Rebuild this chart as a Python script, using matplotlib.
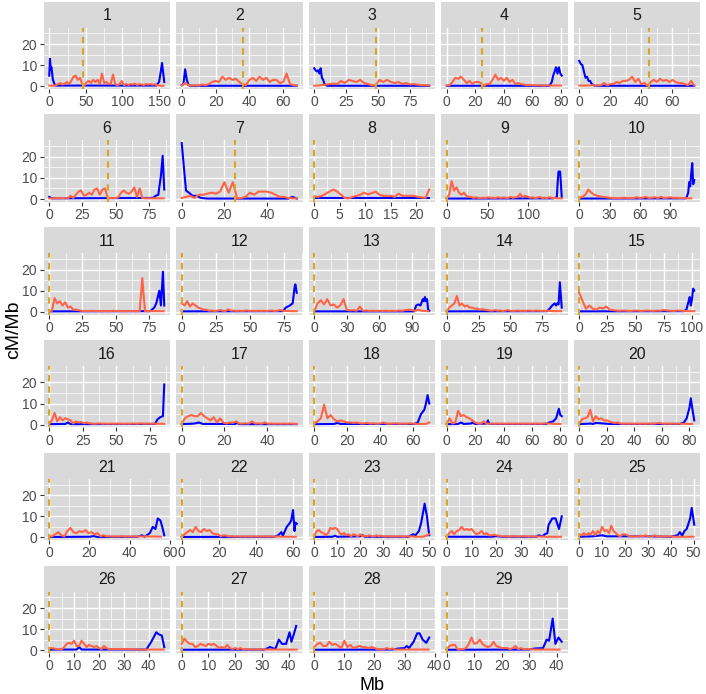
import numpy as np
import matplotlib.pyplot as plt

plt.rcParams['font.family'] = ['Liberation Sans', 'DejaVu Sans']

#--------------------------------------------------------------------------------------------------
# data: recombination rate (cM/Mb) along each chromosome

chroms = [str(i) for i in range(1, 30)]

# centromere position (Mb), dashed line
centromere = [46.5, 36, 48, 24.6, 44.7, 44, 25] + [0] * 22

# spacing of major x breaks per panel
x_break = [50, 20, 25, 20, 20, 25, 20, 5, 50, 30,
           25, 25, 30, 25, 25, 25, 20, 20, 20, 20,
           20, 20, 10, 10, 10, 10, 10, 10, 10]

# red series: regular windows, step in Mb
red_step = [3, 2, 3, 2, 2, 2, 2, 0.75, 3, 3,
            2, 2, 3, 2, 3, 2, 1.5, 2, 2, 2,
            1.5, 1.5, 1, 1, 1, 1, 1, 1, 1]

red_rate = [
    [0.3,0.2,0.3,0.5,1.0,1.5,0.8,1.2,2.0,1.0,2.5,4.5,5.0,3.0,4.0,1.0,0.2,2.0,2.5,1.5,3.0,2.0,3.0,1.0,6.0,1.5,2.0,1.0,1.2,5.5,1.0,0.5,1.0,2.5,0.5,1.0,0.6,1.0,0.8,1.2,0.6,1.0,0.8,0.6,1.0,0.8,1.0,0.7,0.9,0.5,0.3,0.2,0.2],
    [0.3,1.5,0.5,0.3,0.5,0.3,0.8,0.5,1.0,2.0,2.5,2.0,4.5,3.0,4.0,3.0,3.5,2.0,1.0,0.5,3.0,4.0,2.5,4.5,3.0,4.0,2.0,3.0,3.0,1.5,2.0,6.0,1.0,0.5,0.3],
    [0.2,0.3,0.5,0.8,1.0,1.2,1.0,2.5,1.5,3.0,2.5,2.0,3.0,1.5,1.0,0.5,0.3,3.0,2.0,3.0,2.0,1.5,2.0,1.0,1.5,0.8,1.0,0.7,0.5,0.5,0.4],
    [0.3,0.5,2.0,4.0,3.5,4.5,3.0,1.5,2.5,1.0,2.0,2.0,1.5,0.2,1.0,1.0,3.0,5.5,3.0,4.0,2.5,4.0,2.0,3.0,1.0,1.5,1.0,0.8,0.5,0.6,0.5,0.4,0.5,0.4,0.3,0.4,0.3,0.3,0.3,0.3,0.3],
    [0.3,0.3,0.3,0.3,0.5,0.3,0.4,0.5,1.5,0.5,1.0,1.0,2.0,1.5,2.5,2.5,3.0,4.5,2.0,3.5,1.0,1.5,0.2,2.0,3.0,2.0,3.5,2.5,3.0,2.0,3.0,2.0,1.5,1.5,1.0,0.5,2.5,0.3],
    [0.3,0.3,0.3,0.5,0.3,0.5,0.4,0.3,1.5,0.5,2.0,3.5,4.0,1.5,2.0,3.0,2.0,4.5,5.0,2.0,4.5,5.0,0.2,0.5,0.4,0.5,0.8,3.0,4.0,3.0,2.5,3.5,5.5,1.0,5.0,0.5,0.3,0.3,0.3,0.3,0.3,0.3,0.3,0.3],
    [0.5,1.0,1.5,0.5,2.0,2.0,2.5,3.0,2.5,3.5,8.0,3.0,8.0,0.3,0.5,1.0,3.0,2.0,3.5,3.5,3.5,3.0,2.0,1.0,1.0,0.5,0.3,0.3],
    [1.2,1.0,1.5,2.5,3.5,4.5,3.5,2.0,0.5,0.3,1.0,1.5,2.0,3.0,2.2,2.8,3.5,2.0,1.5,1.5,1.5,1.0,2.5,1.5,1.5,1.5,1.5,1.0,0.8,0.5,4.5],
    [0.5,2.0,8.5,4.0,5.5,3.0,2.0,3.0,1.5,1.0,1.0,0.5,0.8,0.5,0.5,0.6,0.5,0.8,0.5,0.6,0.5,0.8,0.5,0.7,0.6,0.5,1.0,0.6,0.8,1.0,2.5,0.8,1.5,1.2,0.6,0.8,0.5,0.6,1.0,0.5,0.6,0.5,0.8,0.5,0.5,0.3,0.3,0.3],
    [0.5,1.0,2.0,4.5,3.0,2.0,1.5,1.2,1.0,0.8,0.6,0.5,0.5,0.4,0.5,0.6,0.4,0.5,0.5,0.8,0.5,0.6,1.0,0.5,0.6,0.8,0.5,1.0,0.5,0.6,0.8,0.5,0.6,0.5,0.5,0.4,0.3,0.3],
    [0.2,0.5,6.5,4.0,5.0,3.0,4.5,2.0,2.5,1.0,1.0,0.8,0.5,0.3,0.4,0.3,0.5,0.3,0.4,0.3,0.3,0.4,0.3,0.3,0.5,0.3,0.4,0.3,0.3,0.3,0.4,0.3,0.3,0.3,0.3,16.0,0.3,0.3,0.3,0.3,0.3,0.3,0.3,0.3],
    [4.0,3.0,5.0,2.5,4.0,3.0,2.0,1.5,1.0,1.0,0.5,0.6,0.4,0.5,0.8,0.5,0.4,1.2,0.5,0.6,0.4,0.5,0.4,0.5,0.6,0.4,0.5,0.4,0.5,0.4,0.5,0.4,0.5,0.6,0.4,0.5,0.8,0.5,0.4,0.4,0.3,0.3,0.3],
    [0.3,4.0,5.5,3.5,6.0,3.0,3.5,2.0,3.0,6.0,1.0,0.6,0.8,0.5,2.5,0.5,0.6,0.4,0.5,0.4,0.5,0.4,0.5,0.4,0.5,0.4,0.6,0.5,0.8,1.0,0.8,0.5,1.0,0.5,0.4,0.3],
    [0.3,2.0,3.0,4.0,7.5,3.0,4.0,2.5,3.0,2.0,2.0,1.5,1.5,1.0,1.2,1.0,0.8,0.6,0.5,0.8,0.5,0.6,0.4,0.5,0.8,0.5,0.4,0.5,0.6,0.4,0.5,0.4,0.6,0.5,0.4,0.6,0.5,0.4,0.5,0.4,0.5,0.4,0.3,0.3,0.3,0.3],
    [9.0,5.0,1.5,3.0,1.5,1.0,2.0,1.5,2.5,1.0,0.8,0.6,0.5,0.6,0.5,0.4,0.5,0.6,0.4,0.5,0.6,0.5,0.4,0.6,0.5,0.8,0.6,0.5,0.4,0.6,0.5,0.4,0.3,0.3,0.3],
    [0.5,2.0,5.5,1.5,3.5,2.0,3.0,2.5,2.0,0.5,1.5,1.0,1.2,0.6,1.0,0.6,0.5,0.4,0.5,0.6,0.4,0.5,0.4,0.5,0.4,0.5,0.4,0.5,0.4,0.5,0.4,0.5,0.5,0.4,0.6,0.5,0.4,0.5,0.4,0.5,0.4,0.4,0.4,0.3],
    [0.5,3.0,4.0,4.5,4.0,4.0,5.5,4.0,3.0,2.0,3.5,1.0,3.0,1.0,0.5,1.0,0.8,1.5,0.5,0.5,0.6,0.5,1.5,0.5,0.6,0.4,1.0,0.4,0.5,0.4,0.5,0.4,0.5,0.4,0.5,0.4,0.3],
    [0.5,1.5,3.0,9.5,3.0,4.5,2.5,1.5,2.0,1.5,1.0,1.0,0.8,1.0,0.6,0.5,0.8,0.5,0.6,0.4,0.5,1.0,0.5,0.4,0.5,0.6,0.4,0.5,0.4,0.6,0.5,0.4,0.3,0.3,0.3,1.0],
    [0.5,3.0,0.5,1.0,6.5,4.0,4.5,3.5,3.0,2.0,1.0,0.5,0.4,1.5,0.5,0.4,0.5,0.4,0.5,0.4,0.5,0.4,0.5,0.4,0.5,0.4,0.5,0.4,0.5,0.4,0.5,0.4,0.5,0.4,0.5,0.6,0.5,0.4,0.3,0.3,0.3],
    [0.5,2.5,3.0,3.5,7.0,1.5,4.0,2.5,3.0,2.0,2.0,1.5,1.0,0.8,1.0,0.5,0.4,0.5,0.4,0.5,0.4,0.5,0.4,0.5,0.4,0.5,0.4,0.5,0.6,0.8,0.5,0.4,0.5,0.4,0.5,0.4,0.5,0.4,0.4,0.3,0.3,0.3],
    [0.5,0.5,1.5,2.5,1.0,0.5,3.0,4.5,2.5,2.0,3.0,2.5,3.5,2.0,2.5,1.5,2.0,0.5,1.0,0.5,0.5,0.4,0.5,0.4,0.6,0.4,0.5,0.4,0.5,0.4,0.5,0.4,0.5,0.4,0.4,0.4,0.4,0.3],
    [0.3,1.5,2.5,3.5,2.5,5.0,3.0,2.5,4.0,3.0,3.5,2.0,1.5,1.5,0.5,1.0,0.8,0.5,0.6,0.4,0.5,0.4,0.5,0.4,0.5,0.4,0.5,0.4,0.5,0.4,0.5,0.4,0.5,0.4,0.4,0.4,0.3,0.3,0.3,0.3,0.3,0.3],
    [0.5,3.0,3.5,2.5,2.0,1.0,2.0,4.5,4.0,4.5,4.0,2.0,1.5,2.0,1.0,1.5,0.5,1.5,1.0,0.5,1.5,0.5,0.8,0.5,1.0,0.5,0.4,1.0,0.5,0.8,0.5,0.4,0.6,0.5,0.4,0.5,0.4,0.6,0.5,0.4,0.5,0.4,0.5,0.4,0.3,0.3,0.3,0.3,0.5,1.0,1.5],
    [0.5,2.0,3.0,1.5,3.0,3.5,5.0,3.5,4.0,3.5,4.0,2.5,1.5,2.0,3.0,1.5,2.0,1.0,1.0,1.2,1.0,0.8,0.5,0.6,0.5,0.4,0.5,0.6,0.5,0.4,0.5,0.6,0.5,0.4,0.5,0.4,0.5,0.4,0.4,0.4,0.3,0.3,0.3,0.3,0.3,0.3,0.3],
    [1.5,1.0,2.0,1.0,2.0,1.5,3.0,1.0,3.0,2.0,5.0,3.0,3.5,2.0,5.5,3.0,2.0,1.0,0.5,1.5,1.5,1.0,0.5,0.5,0.4,0.5,0.4,0.8,0.5,1.0,0.4,0.5,0.4,1.0,0.5,0.4,0.5,0.4,0.5,0.4,0.5,0.4,0.3,0.3,0.3,0.3,0.3,0.3,0.3,0.3,0.3],
    [1.0,1.0,0.8,0.5,0.5,0.3,1.5,3.0,3.5,3.0,4.5,2.0,2.0,4.5,3.0,1.5,2.5,2.0,1.5,2.0,1.0,0.5,2.0,1.0,0.5,0.5,0.6,0.5,0.5,0.6,0.5,0.5,0.4,0.5,0.4,0.4,0.3,0.3,0.3,0.3,0.3,0.3,0.3,0.3,0.3,0.3,0.3],
    [3.0,5.5,4.0,3.0,3.0,1.5,2.0,3.0,2.5,2.0,3.0,2.5,3.0,2.0,1.0,1.5,1.0,2.5,1.0,0.5,1.0,0.5,1.0,0.3,0.5,0.4,0.5,0.3,0.4,0.3,0.5,0.4,0.3,0.3,0.3,0.3,0.3,0.3,0.3,0.3,0.3,0.3,0.3,0.3],
    [1.5,3.0,3.5,2.0,2.0,4.0,2.5,3.0,2.0,1.0,4.5,1.5,2.5,1.0,1.5,2.0,1.5,1.5,1.0,1.5,1.0,0.5,0.5,0.3,1.0,0.5,0.8,0.3,0.3,0.3,0.3,0.3,0.3,0.3,0.3,0.3,0.3,0.3,0.3],
    [0.5,2.0,2.5,2.5,0.3,0.5,0.5,1.0,3.0,6.0,3.0,3.5,5.0,3.0,2.0,1.5,2.0,4.0,2.0,1.5,1.0,1.0,1.0,0.5,1.0,2.0,0.5,1.0,0.5,0.4,0.5,0.4,0.3,0.3,0.3,0.3,0.3,0.3,0.3,0.3,0.3,0.3],
]

# blue series: (Mb, cM/Mb) vertices
blue_rate = [
    [(0,5),(1,13),(2,8),(3,9),(5,3),(8,0.3),(146,0.3),(150,2),(154,11),(157,2)],
    [(0,0.5),(1,1),(2,8),(3,3),(4,0.5),(5,0.2),(68,0.2)],
    [(0,8.5),(1,7.5),(2,7),(3,7.5),(4,6),(5,8.5),(6,4),(7,3),(8,1),(10,0.2),(90,0.2)],
    [(0,0.2),(72,0.2),(73.5,2),(74.5,5),(75.5,7),(76.5,9),(77.5,6),(78.5,9),(79.5,6),(80.5,5)],
    [(0,12),(1,10.5),(2,10),(3,7),(4,4),(5,4.5),(6,2.5),(7,2.5),(8,1),(10,0.2),(74,0.2)],
    [(0,1),(2,0.3),(78,0.5),(80,1.5),(82,2),(84,11),(85.3,20.5),(86.5,4.5)],
    [(0,26.5),(1,15),(2,4),(4,2.5),(5,1.5),(7,1.5),(9,0.5),(12,0.2),(50,0.2),(52,1),(54,0.2)],
    [(0,0.3),(22.5,0.3)],
    [(0,0.2),(130,0.3),(133,0.5),(135,1),(136,8),(137,13),(139,13),(141,1)],
    [(0,0.2),(106,0.3),(108,3),(109,8),(110,6),(111,12),(112,17),(113,7),(114,9)],
    [(0,0.2),(76,0.3),(79,2),(80.5,4),(82,8),(82.8,10),(84,3),(85.5,19),(86.5,3)],
    [(0,0.2),(74,0.3),(76,2),(79,3),(81,4),(82.5,12),(83,13),(84,9)],
    [(0,0.2),(92,0.2),(94,3),(96,3.5),(98,3),(100,6),(101,5),(102,7),(103,5),(104,6),(105,1),(106,0.5)],
    [(0,0.2),(79,0.3),(81,1.5),(83,3),(85,4),(86,3),(87,4),(88,3.5),(89,14),(90.5,2)],
    [(0,0.2),(93,0.3),(95,1),(97,5),(98,7),(99,3),(100,6),(101,11),(102,10)],
    [(0,0.2),(12,0.3),(14,1),(16,0.2),(79,0.3),(81,2.5),(83,3.5),(85,4),(86,19)],
    [(0,0.2),(6,0.5),(8,1),(10,0.3),(25,0.3),(26,0.8),(27,0.2),(54,0.2)],
    [(0,0.2),(12,0.3),(14,0.8),(16,0.3),(61,0.3),(63,1),(65,5),(66,6),(67,7),(68,10),(69,14),(70,10)],
    [(0,0.2),(8,0.3),(10,1),(12,0.3),(17,0.5),(18,1),(20,0.3),(28,0.5),(29,2),(30,0.3),(70,0.3),(72,1),(75,1.5),(77,3),(79,7.5),(80,4.5),(81,4)],
    [(0,0.2),(8,0.5),(10,0.3),(12,0.8),(22,0.3),(73,0.3),(76,1),(78,3),(80,8),(81,12.5),(82,8),(83.5,2)],
    [(0,0.2),(20,0.3),(22,0.6),(24,0.2),(44,0.3),(46,1),(47.5,0.3),(50,2),(51.5,5),(52.8,4),(54,9),(55.3,8),(56.2,5),(57.2,1)],
    [(0,0.2),(50,0.3),(52,1),(53.7,2.5),(54.5,0.8),(56.6,5),(58,6.5),(59,8),(60,13),(60.8,3),(61.3,7),(62,6.5)],
    [(0,0.2),(8,0.3),(9,0.8),(10,0.3),(20,0.5),(21,1),(22,0.3),(41,0.3),(43,1.5),(44,1),(45.5,3),(46.5,7),(48,16),(49,10),(50,1)],
    [(0,0.3),(18,0.3),(20,0.6),(22,0.3),(36,0.3),(37,1),(38.5,0.5),(39.5,1.5),(40.5,2),(41,6),(42.5,9),(43.8,9),(45.2,4),(46.3,10)],
    [(0,0.3),(6,0.5),(10,1),(12,0.5),(30,0.5),(40,0.3),(43,1),(44,2.5),(45,0.8),(46,3),(47,4),(48.5,9),(49.2,14),(50.3,6)],
    [(0,0.3),(11,0.3),(12,1.5),(13,0.3),(39,0.3),(41,4),(43,8.5),(44,7.5),(45.2,7),(46.2,1.5)],
    [(0,0.2),(31,0.3),(33,1.5),(35,0.5),(36.3,5),(37.5,3),(39,3),(40.3,8.5),(41,4),(42,8),(42.8,11.5)],
    [(0,0.2),(26,0.3),(28,0.8),(30,1),(30.7,2),(31.5,1),(33,4),(34.2,8),(35,8),(36,5),(37.2,3.5),(38.2,6)],
    [(0,0.2),(30,0.3),(32,0.8),(35,1),(36.3,5),(37.2,4.5),(38.5,15),(39.5,3),(40.6,6),(41.8,4)],
]

y_breaks = [0, 10, 20]

#--------------------------------------------------------------------------------------------------

W, H = 706, 694
fig = plt.figure(figsize=(W / 100, H / 100), dpi=100)

def rect(x0, y0, w, h):
    # pixel box (from top-left) -> figure fraction
    return [x0 / W, 1 - (y0 + h) / H, w / W, h / H]

ymax = max(max(r) for r in red_rate + [[p[1] for p in b] for b in blue_rate])
ylim = (-0.05 * ymax, 1.05 * ymax)

strip_col = '#D9D9D9'
panel_col = '#D9D9D9'

for i, ch in enumerate(chroms):
    row, col = divmod(i, 5)
    left = 43.5 + col * 132.5
    top = 1.5 + row * 112.8

    sax = fig.add_axes(rect(left, top, 126.5, 26))
    sax.set_facecolor(strip_col)
    sax.set_xticks([])
    sax.set_yticks([])
    for sp in sax.spines.values():
        sp.set_visible(False)
    sax.text(0.5, 0.45, ch, ha='center', va='center', fontsize=11.5, color='#1A1A1A',
             transform=sax.transAxes)

    ax = fig.add_axes(rect(left, top + 26, 126.5, 61.5))
    ax.set_facecolor(panel_col)
    for sp in ax.spines.values():
        sp.set_visible(False)

    red = np.array(red_rate[i])
    rx = np.arange(len(red)) * red_step[i]
    bx, by = zip(*blue_rate[i])
    L = max(rx.max(), max(bx))

    ax.plot(bx, by, color='#0000FF', lw=1.5, zorder=3)
    ax.plot(rx, red, color='#FF6347', lw=1.5, zorder=4)
    ax.axvline(centromere[i], color='#DAA520', lw=1.5, ls=(0, (3, 2.5)), zorder=5)

    xlim = (-0.05 * L, 1.05 * L)
    ax.set_xlim(xlim)
    ax.set_ylim(ylim)

    st = x_break[i]
    major = [v for v in np.arange(0, xlim[1] + 1e-9, st) if v <= xlim[1]]
    minor = [v for v in np.arange(-st / 2, xlim[1], st) if xlim[0] <= v <= xlim[1]]
    ax.set_xticks(major)
    ax.set_xticklabels(['%g' % v for v in major])
    ax.set_xticks(minor, minor=True)
    ax.set_yticks(y_breaks)
    ax.set_yticks([5, 15, 25], minor=True)

    ax.grid(True, which='major', color='white', lw=1.0, zorder=0)
    ax.grid(True, which='minor', color='white', lw=0.5, zorder=0)
    ax.set_axisbelow(True)

    ax.tick_params(which='major', length=3, width=0.8, color='#333333',
                   labelsize=10, labelcolor='#4D4D4D', pad=1.5)
    ax.tick_params(which='minor', length=0)
    if col != 0:
        ax.tick_params(axis='y', which='major', length=0, labelleft=False)

fig.text(14 / W, 1 - 330 / H, 'cM/Mb', rotation=90, ha='center', va='center', fontsize=14)
fig.text(372 / W, 1 - 690 / H, 'Mb', ha='center', va='baseline', fontsize=13)

plt.savefig('out.png', dpi=100)
